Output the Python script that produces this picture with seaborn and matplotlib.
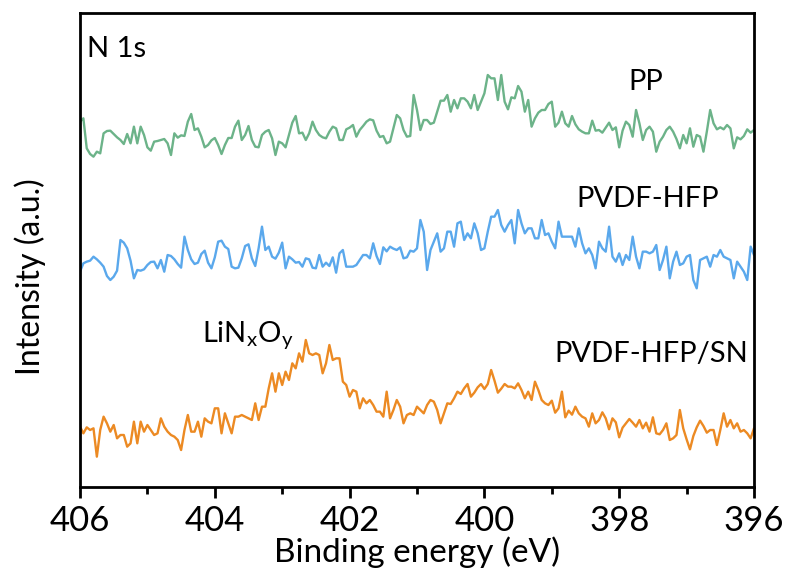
import numpy as np
import pandas as pd
import matplotlib
matplotlib.use("Agg")
import matplotlib.pyplot as plt
from matplotlib.ticker import MultipleLocator
import seaborn as sns

# ---------------- data ----------------
energy = np.round(np.linspace(406, 396, 201), 2)  # binding energy grid (eV)

pp = [315,325,235,218,210,225,220,280,287,288,
      278,268,260,248,278,250,300,250,300,275,
      238,228,255,257,260,263,250,215,280,267,
      274,272,315,338,290,295,270,238,245,259,
      266,245,218,245,266,266,300,318,260,275,
      302,260,240,238,275,285,290,265,215,255,
      250,238,275,312,332,280,282,260,280,315,
      290,275,268,265,285,300,295,260,260,292,
      297,305,270,290,302,315,322,319,288,269,
      272,250,255,295,335,325,290,270,272,395,
      350,290,320,320,308,312,345,378,378,395,
      345,380,355,385,385,375,355,395,350,375,
      400,455,445,445,380,455,375,352,388,385,
      422,405,345,380,300,325,342,350,350,368,
      375,300,312,345,310,300,332,307,292,285,
      280,280,318,288,290,282,297,312,290,298,
      238,288,315,305,270,350,310,260,290,300,
      285,225,255,270,290,300,285,263,235,275,
      250,295,240,275,270,225,285,350,310,292,
      298,292,305,295,235,268,262,272,292,282,290]

pvdf_hfp = [285,310,315,318,330,322,312,300,272,260,
            270,288,380,372,355,318,265,290,288,292,
            305,314,315,295,320,285,335,332,322,308,
            297,390,350,322,308,312,338,348,312,295,
            328,375,378,360,353,300,295,297,325,362,
            367,325,302,355,420,350,360,330,324,342,
            372,295,330,322,312,314,300,325,322,297,
            295,335,300,312,302,328,282,340,350,300,
            300,300,305,320,335,335,325,370,332,308,
            358,346,360,354,350,358,325,328,348,345,
            355,440,405,290,350,375,400,345,355,405,
            405,360,430,435,380,400,385,430,400,350,
            355,405,450,450,470,425,405,425,440,370,
            470,430,400,415,415,385,385,440,395,400,
            375,355,435,390,390,390,390,360,415,370,
            340,355,335,295,375,355,345,420,330,315,
            340,305,335,320,390,330,295,345,345,340,
            345,365,290,320,360,265,315,345,305,310,
            330,335,260,235,320,325,330,300,335,330,
            350,330,325,320,265,315,300,285,260,360,335]

pvdf_hfp_sn = [180,160,178,170,175,90,170,210,190,165,
               185,145,155,155,120,130,195,130,195,165,
               185,170,155,160,205,180,165,155,150,140,
               110,170,215,165,165,195,150,205,195,190,
               235,235,160,220,190,160,210,210,215,210,
               205,200,250,200,240,240,295,340,285,340,
               305,345,320,370,355,400,375,440,400,395,
               400,395,340,370,425,380,385,385,315,305,
               270,290,285,235,265,250,260,245,225,225,
               210,285,205,230,260,240,190,215,220,215,
               240,230,220,245,260,255,230,190,220,250,
               248,265,285,278,295,308,270,282,298,308,
               293,308,350,318,282,294,308,300,300,295,
               310,290,265,285,260,315,290,260,250,245,
               258,222,235,285,208,228,216,240,220,210,
               205,180,220,190,200,223,205,172,205,193,
               148,177,190,203,192,180,200,175,192,165,
               208,160,157,170,190,140,145,155,230,175,
               142,112,152,178,198,182,162,170,170,125,
               170,220,180,200,175,190,165,170,160,145,175]

samples = ["PP", "PVDF-HFP", "PVDF-HFP/SN"]
series = [pp, pvdf_hfp, pvdf_hfp_sn]
stack_offset = [781, 361, 1]   # vertical stacking of spectra (a.u.)
colors = ["#6cb389", "#5aa8ec", "#ec8a23"]

# ---------------- build table ----------------
frames = []
for name, vals, off in zip(samples, series, stack_offset):
    frames.append(pd.DataFrame({"energy": energy,
                                "intensity": np.asarray(vals, float) + off,
                                "sample": name}))
df = pd.concat(frames, ignore_index=True)

# ---------------- plot ----------------
sns.set_style("ticks")
plt.rcParams["font.family"] = ["Lato", "DejaVu Sans"]
plt.rcParams["mathtext.fontset"] = "custom"
plt.rcParams["mathtext.rm"] = "Lato"

fig = plt.figure(figsize=(7.88, 5.78), dpi=100)
ax = fig.add_axes([80/788, 1 - 487/578, 674/788, 474/578])

sns.lineplot(data=df, x="energy", y="intensity", hue="sample",
             palette=dict(zip(samples, colors)), linewidth=1.7,
             legend=False, ax=ax, estimator=None, sort=False)

ax.set_xlim(406, 396)
ax.set_ylim(0, 1422)
ax.set_xticks([406, 404, 402, 400, 398, 396])
ax.xaxis.set_minor_locator(MultipleLocator(1))
ax.set_yticks([])
ax.tick_params(axis="x", which="major", length=8, width=2, direction="out",
               labelsize=25, pad=5, color="black", labelcolor="black")
ax.tick_params(axis="x", which="minor", length=5, width=2, direction="out",
               color="black")
for s in ax.spines.values():
    s.set_visible(True)
    s.set_linewidth(2)
    s.set_color("black")

ax.set_xlabel("Binding energy (eV)", fontsize=24, color="black")
ax.set_ylabel("Intensity (a.u.)", fontsize=23, color="black")
ax.xaxis.set_label_coords(0.5, -0.105)
ax.yaxis.set_label_coords(-0.05, 0.443)

txt = dict(color="black", fontsize=21)
ax.text(405.9, 1290, "N 1s", ha="left", va="baseline", **txt)
ax.text(397.6, 1191, "PP", ha="center", va="baseline", **txt)
ax.text(397.57, 840, "PVDF-HFP", ha="center", va="baseline", **txt)
ax.text(397.53, 375, "PVDF-HFP/SN", ha="center", va="baseline", **txt)
ax.text(404.19, 435, r"LiN$_\mathregular{x}$O$_\mathregular{y}$",
        ha="left", va="baseline", **txt)

fig.savefig("out.png", dpi=100)
